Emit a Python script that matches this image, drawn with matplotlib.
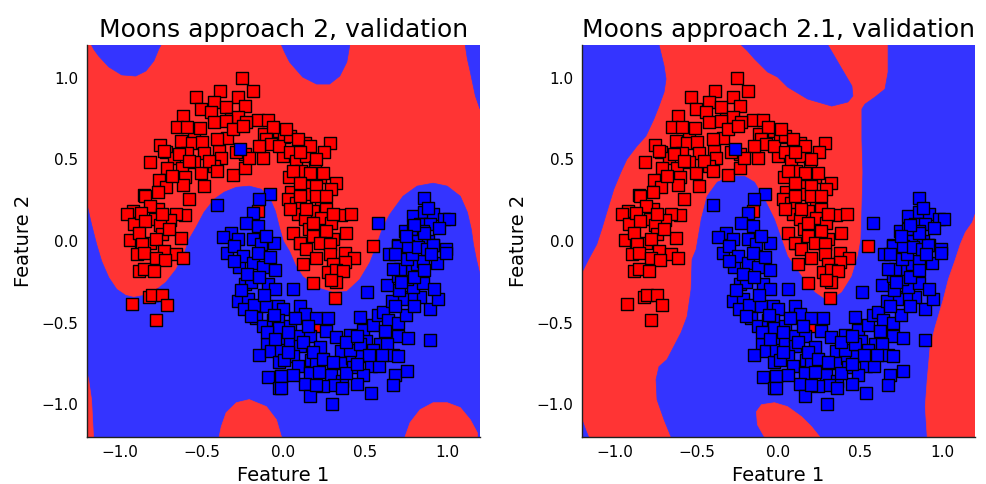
import numpy as np
import matplotlib
matplotlib.use("Agg")
import matplotlib.pyplot as plt
from matplotlib.patches import Polygon

# ---- validation samples (two moons) ----
red_x = [-0.254, -0.389, -0.188, -0.532, -0.427, -0.280, -0.352, -0.233, -0.505, -0.444,
         -0.613, -0.648, -0.546, -0.423, -0.321, -0.280, -0.157, -0.096, -0.029, -0.117,
         0.006, -0.628, -0.556, -0.495, -0.342, -0.755, -0.720, -0.669, -0.587, -0.485,
         -0.393, -0.382, -0.235, -0.127, -0.004, -0.816, -0.710, -0.618, -0.546, -0.505,
         -0.423, -0.311, -0.235, -0.761, -0.601, -0.613, -0.720, -0.485, -0.765, -0.853,
         -0.577, -0.769, -0.918, -0.955, -0.601, -0.658, -0.787, -0.695, -0.914, -0.755,
         -0.935, -0.812, -0.744, -0.628, -0.873, -0.153,
         -0.587, -0.511, -0.352, -0.229, -0.311, -0.249, -0.065, -0.106, -0.076, -0.147,
         -0.025, -0.403, -0.290, -0.209, -0.730, -0.638, -0.577, -0.454, -0.403, -0.679,
         -0.843, -0.812, -0.873, -0.740, -0.843, -0.883, -0.699, -0.781,
         0.037, 0.129, 0.282, 0.247, 0.041, 0.074, 0.135, 0.108, 0.190, 0.033,
         0.221, 0.160, 0.319, 0.047, 0.027, 0.078, 0.149, 0.231, 0.262, 0.292,
         0.088, 0.180, 0.231, 0.350, 0.415, 0.129, 0.292, 0.155, 0.384, 0.303,
         0.104, 0.180,
         0.016, 0.088, 0.160, 0.098, 0.200, 0.057, 0.160, 0.241, 0.098, 0.200,
         0.098, 0.200, 0.262, 0.037, 0.139, 0.303, 0.180, 0.262, 0.057, 0.221,
         -0.863, -0.894, -0.853, -0.730, -0.658, -0.613, -0.781, -0.724, -0.881, -0.853,
         -0.791, -0.822, -0.801, -0.744, -0.924, -0.710, -0.781,
         0.102, 0.139, 0.200, 0.282, 0.282, 0.374, 0.429, 0.374, 0.303, 0.272,
         0.323, 0.364, 0.119, 0.180, 0.319, 0.292, 0.313, 0.196, 0.548]
red_y = [1.000, 0.920, 0.920, 0.879, 0.853, 0.883, 0.822, 0.828, 0.808, 0.787,
         0.763, 0.701, 0.665, 0.726, 0.746, 0.757, 0.740, 0.740, 0.675, 0.654,
         0.634, 0.613, 0.599, 0.607, 0.630, 0.587, 0.548, 0.511, 0.536, 0.536,
         0.552, 0.511, 0.532, 0.507, 0.521, 0.481, 0.450, 0.450, 0.485, 0.419,
         0.460, 0.405, 0.450, 0.374, 0.389, 0.344, 0.331, 0.337, 0.297, 0.282,
         0.260, 0.194, 0.182, 0.164, 0.160, 0.168, 0.133, 0.127, 0.102, 0.098,
         0.004, -0.010, 0.041, 0.016, -0.020, 0.184,
         0.695, 0.689, 0.736, 0.726, 0.685, 0.706, 0.695, 0.624, 0.593, 0.583,
         0.583, 0.624, 0.542, 0.511, 0.552, 0.532, 0.491, 0.491, 0.429, 0.399,
         0.276, 0.215, 0.174, 0.164, 0.123, 0.051, 0.072, 0.010,
         0.644, 0.599, 0.603, 0.542, 0.542, 0.491, 0.521, 0.429, 0.454, 0.389,
         0.389, 0.337, 0.358, 0.297, 0.256, 0.235, 0.286, 0.235, 0.194, 0.317,
         0.164, 0.184, 0.143, 0.160, 0.164, 0.133, 0.108, 0.072, 0.051, 0.014,
         -0.010, 0.031,
         0.685, 0.624, 0.583, 0.542, 0.501, 0.429, 0.419, 0.419, 0.358, 0.337,
         0.276, 0.276, 0.276, 0.194, 0.194, 0.164, 0.112, 0.061, 0.051, -0.010,
         -0.020, -0.082, -0.072, -0.061, -0.078, -0.102, -0.102, -0.117, -0.184, -0.170,
         -0.184, -0.342, -0.333, -0.333, -0.384, -0.389, -0.481,
         -0.010, -0.047, -0.102, -0.020, -0.082, -0.072, -0.102, -0.129, -0.143, -0.190,
         -0.180, -0.184, -0.143, -0.256, -0.252, -0.240, -0.352, -0.522, -0.031]

blue_x = [-0.264, -0.082, -0.147, -0.403, -0.188, -0.229, -0.153, -0.321, -0.372, -0.280,
          -0.188, -0.137, -0.055, -0.106,
          0.579, 0.859, 0.793, 0.859, 0.916, 0.978, 1.008, 0.834, 0.896, 0.742,
          0.789, 0.855, 0.701, 0.773, 0.814, 0.885, 0.916, 0.994,
          -0.342, -0.301, -0.270, -0.249, -0.188, -0.157, -0.127, -0.235, -0.198, -0.096,
          -0.051, -0.280, -0.219, -0.239, -0.178, -0.106, -0.035, -0.004, -0.168, -0.127,
          -0.065, -0.031, -0.025, -0.102, -0.147, -0.076, -0.018, -0.029, -0.018, -0.092,
          -0.018, -0.025,
          0.057, 0.098, 0.129, 0.200, 0.272, 0.262, 0.323, 0.405, 0.466, 0.511,
          0.487, 0.548, 0.503, 0.589, 0.579, 0.609, 0.640, 0.701, 0.763, 0.634,
          0.667, 0.701, 0.896, 0.892, 0.941, 0.834, 0.777, 0.722, 0.660, 0.708,
          0.793, 0.855, 0.920, 0.630, 0.753, 0.701, 0.783, 0.712, 0.671, 0.814,
          0.855, 0.937, 0.753, 0.783, 0.644, 0.701, 0.763, 0.824, 0.875, 0.912,
          0.994, 0.037, 0.037, 0.102, 0.102, 0.164, 0.225, 0.057, 0.088, 0.170,
          0.200, 0.164, 0.292, 0.350, 0.354, 0.421, 0.425, 0.476, 0.532, 0.585,
          0.487, 0.360, 0.446, 0.309, 0.241, 0.129, 0.681, 0.671, 0.757, 0.160,
          0.532, 0.296, -0.014, -0.014, 0.006, 0.405, 0.466, 0.548, 0.384,
          -0.30, -0.22, -0.15, -0.08, -0.05, -0.26, -0.12, -0.06, -0.20, -0.10,
          -0.05, 0.03, 0.07, 0.15, 0.12, 0.18, 0.24, 0.03, 0.06, 0.22,
          0.30, 0.38, 0.45, 0.52, 0.60, 0.62, 0.70, 0.75, 0.80, 0.68,
          0.72, 0.80, 0.86, 0.90, 0.86, 0.80, 0.88, 0.95, 0.68, 0.75,
          0.45, 0.36, 0.20]
blue_y = [0.562, 0.290, 0.256, 0.219, 0.170, 0.112, 0.092, 0.051, 0.027, 0.010,
          0.010, -0.020, -0.010, 0.031,
          0.108, 0.266, 0.153, 0.178, 0.164, 0.137, 0.137, 0.106, 0.106, 0.061,
          0.072, 0.061, -0.027, -0.020, 0.000, 0.000, -0.027, -0.051,
          -0.072, -0.031, -0.158, -0.092, -0.133, -0.072, -0.158, -0.266, -0.252, -0.266,
          -0.292, -0.368, -0.354, -0.415, -0.389, -0.399, -0.395, -0.419, -0.474, -0.521,
          -0.481, -0.485, -0.532, -0.628, -0.699, -0.675, -0.624, -0.742, -0.665, -0.834,
          -0.828, -0.900,
          -0.292, -0.395, -0.444, -0.470, -0.470, -0.552, -0.587, -0.573, -0.464, -0.311,
          -0.542, -0.517, -0.613, -0.628, -0.450, -0.436, -0.481, -0.583, -0.593, -0.628,
          -0.695, -0.706, -0.607, -0.419, -0.354, -0.342, -0.342, -0.354, -0.368, -0.297,
          -0.280, -0.256, -0.292, -0.272, -0.231, -0.215, -0.170, -0.170, -0.174, -0.143,
          -0.123, -0.137, -0.112, -0.082, -0.082, -0.031, -0.031, -0.035, -0.051, -0.027,
          -0.072, -0.522, -0.624, -0.583, -0.644, -0.583, -0.648, -0.706, -0.767, -0.726,
          -0.736, -0.808, -0.818, -0.671, -0.747, -0.716, -0.771, -0.702, -0.763, -0.763,
          -0.818, -0.859, -0.873, -0.879, -0.890, -0.875, -0.818, -0.879, -0.798, -0.947,
          -0.930, -0.998, -0.828, -0.900, -0.726, -0.665, -0.630, -0.665, -0.808,
          -0.12, -0.20, -0.22, -0.10, -0.18, -0.30, -0.33, -0.45, -0.46, -0.56,
          -0.60, -0.56, -0.47, -0.52, -0.62, -0.68, -0.72, -0.68, -0.82, -0.80,
          -0.74, -0.62, -0.58, -0.70, -0.70, -0.55, -0.50, -0.45, -0.40, -0.40,
          -0.25, -0.22, -0.18, -0.08, 0.05, 0.10, 0.20, 0.08, -0.08, 0.03,
          -0.75, -0.90, -0.88]

# ---- predicted class regions (boundary vertices, data units) ----
# approach 2: red background with blue regions
a2_blue_main_x = [-1.2, -1.172, -1.141, -1.110, -1.067, -1.018, -0.963, -0.914, -0.853, -0.791,
                  -0.718, -0.656, -0.607, -0.577, -0.534, -0.485, -0.423, -0.362, -0.288, -0.209,
                  -0.135, -0.086, -0.049, -0.025, 0.0, 0.037, 0.074, 0.117, 0.202, 0.301,
                  0.387, 0.466, 0.528, 0.564, 0.607, 0.650, 0.730, 0.816, 0.914, 1.0,
                  1.080, 1.123, 1.147, 1.160, 1.178, 1.2, 1.2, -1.2]
a2_blue_main_y = [0.225, 0.102, -0.020, -0.124, -0.223, -0.296, -0.333, -0.345, -0.333, -0.309,
                  -0.253, -0.174, -0.082, 0.010, 0.084, 0.176, 0.256, 0.299, 0.329, 0.336,
                  0.317, 0.268, 0.182, 0.084, -0.002, -0.063, -0.149, -0.217, -0.284, -0.315,
                  -0.309, -0.235, -0.131, -0.039, 0.084, 0.164, 0.274, 0.336, 0.354, 0.336,
                  0.274, 0.176, 0.072, -0.020, -0.112, -0.204, -1.2, -1.2]
a2_blue_top1_x = [-1.172, -1.160, -1.129, -1.067, -0.988, -0.902, -0.840, -0.791, -0.761, -0.748]
a2_blue_top1_y = [1.2, 1.176, 1.133, 1.066, 1.017, 1.010, 1.041, 1.103, 1.176, 1.2]
a2_blue_top2_x = [-0.012, 0.006, 0.037, 0.117, 0.202, 0.282, 0.344, 0.387, 0.405]
a2_blue_top2_y = [1.2, 1.158, 1.096, 1.004, 0.961, 0.961, 1.010, 1.096, 1.2]
a2_blue_top3_x = [1.110, 1.123, 1.141, 1.172, 1.2, 1.2]
a2_blue_top3_y = [1.2, 1.115, 1.035, 0.888, 0.808, 1.2]
a2_red_bump1_x = [-0.393, -0.380, -0.350, -0.288, -0.209, -0.104, -0.043, -0.012]
a2_red_bump1_y = [-1.2, -1.137, -1.051, -0.990, -0.971, -1.014, -1.094, -1.2]
a2_red_bump2_x = [0.742, 0.773, 0.834, 0.914, 1.0, 1.080, 1.141, 1.184, 1.184]
a2_red_bump2_y = [-1.2, -1.112, -1.033, -0.990, -0.990, -1.020, -1.094, -1.174, -1.2]
a2_red_edge_x = [-1.2, -1.190, -1.172, -1.160, -1.2]
a2_red_edge_y = [-0.805, -0.848, -0.971, -1.2, -1.2]

# approach 2.1: red background with blue regions
a21_blue_left_x = [-1.2, -0.730, -0.699, -0.687, -0.699, -0.730, -0.761, -0.810, -0.865, -0.926,
                   -0.963, -1.006, -1.049, -1.080, -1.110, -1.160, -1.2]
a21_blue_left_y = [1.2, 1.2, 1.072, 0.992, 0.912, 0.826, 0.747, 0.642, 0.581, 0.501,
                   0.421, 0.317, 0.176, 0.072, -0.020, -0.112, -0.192]
a21_blue_top_x = [-0.227, -0.190, -0.147, -0.067, -0.006, 0.055, 0.178, 0.325, 0.423, 0.454,
                  0.448, 0.387, 0.344, 0.301]
a21_blue_top_y = [1.2, 1.164, 1.115, 1.035, 1.004, 0.943, 0.869, 0.826, 0.851, 0.888,
                  0.949, 1.053, 1.127, 1.2]
a21_blue_main_x = [-0.656, -0.699, -0.742, -0.748, -0.730, -0.681, -0.595, -0.558, -0.534, -0.528,
                   -0.503, -0.472, -0.436, -0.374, -0.288, -0.209, -0.147, -0.086, -0.025, 0.018,
                   0.055, 0.141, 0.221, 0.301, 0.387, 0.448, 0.485, 0.503, 0.509, 0.515,
                   0.509, 0.509, 0.528, 0.589, 0.650, 0.669, 0.669, 1.2, 1.2]
a21_blue_main_y = [-1.2, -1.094, -0.971, -0.848, -0.769, -0.726, -0.560, -0.462, -0.296, -0.112,
                   -0.051, 0.133, 0.274, 0.360, 0.397, 0.397, 0.360, 0.256, 0.133, 0.010,
                   -0.094, -0.217, -0.315, -0.370, -0.315, -0.217, -0.094, 0.010, 0.195, 0.421,
                   0.624, 0.808, 0.838, 0.881, 0.930, 1.035, 1.2, 1.2, -1.2]
a21_red_right_x = [1.2, 1.184, 1.141, 1.110, 1.080, 1.037, 1.006, 0.957, 0.926, 0.908,
                   0.896, 0.908, 1.2]
a21_red_right_y = [0.164, 0.115, 0.053, -0.020, -0.112, -0.235, -0.358, -0.524, -0.646, -0.848,
                   -1.014, -1.2, -1.2]
a21_red_bump_x = [-0.086, -0.129, -0.135, -0.104, -0.025, 0.055, 0.141, 0.202, 0.252]
a21_red_bump_y = [-1.2, -1.124, -1.045, -1.002, -0.990, -1.014, -1.076, -1.137, -1.2]
a21_blue_corner_x = [-1.2, -1.178, -1.160, -1.2]
a21_blue_corner_y = [-1.094, -1.155, -1.2, -1.2]

titles = ["Moons approach 2, validation", "Moons approach 2.1, validation"]
ticks = [-1.0, -0.5, 0.0, 0.5, 1.0]
tick_labels = ["\u22121.0", "\u22120.5", "0.0", "0.5", "1.0"]

RED_REGION = "#ff3434"
BLUE_REGION = "#3434ff"
RED_PT = "#ff0000"
BLUE_PT = "#0000ff"

panels = [
    [(a2_blue_main_x, a2_blue_main_y, BLUE_REGION),
     (a2_blue_top1_x, a2_blue_top1_y, BLUE_REGION),
     (a2_blue_top2_x, a2_blue_top2_y, BLUE_REGION),
     (a2_blue_top3_x, a2_blue_top3_y, BLUE_REGION),
     (a2_red_bump1_x, a2_red_bump1_y, RED_REGION),
     (a2_red_bump2_x, a2_red_bump2_y, RED_REGION),
     (a2_red_edge_x, a2_red_edge_y, RED_REGION)],
    [(a21_blue_left_x, a21_blue_left_y, BLUE_REGION),
     (a21_blue_top_x, a21_blue_top_y, BLUE_REGION),
     (a21_blue_main_x, a21_blue_main_y, BLUE_REGION),
     (a21_red_right_x, a21_red_right_y, RED_REGION),
     (a21_red_bump_x, a21_red_bump_y, RED_REGION),
     (a21_blue_corner_x, a21_blue_corner_y, BLUE_REGION)],
]

fig = plt.figure(figsize=(9.87, 4.84), dpi=100)
axes_pos = [[0.0881, 0.0971, 0.3982, 0.8099], [0.5897, 0.0971, 0.3982, 0.8099]]

for pos, title, regions in zip(axes_pos, titles, panels):
    ax = fig.add_axes(pos)
    ax.set_facecolor(RED_REGION)
    for xs, ys, col in regions:
        ax.add_patch(Polygon(np.column_stack([xs, ys]), closed=True,
                             facecolor=col, edgecolor=col, linewidth=0.5, zorder=1))
    ax.scatter(red_x, red_y, marker="s", s=66, c=RED_PT, edgecolors="black",
               linewidths=1.0, zorder=3)
    ax.scatter(blue_x, blue_y, marker="s", s=66, c=BLUE_PT, edgecolors="black",
               linewidths=1.0, zorder=3)
    ax.set_xlim(-1.2, 1.2)
    ax.set_ylim(-1.2, 1.2)
    ax.set_xticks(ticks)
    ax.set_xticklabels(tick_labels)
    ax.set_yticks(ticks)
    ax.set_yticklabels(tick_labels)
    ax.tick_params(length=0, labelsize=11, pad=6)
    for side in ["top", "right"]:
        ax.spines[side].set_visible(False)
    for side in ["left", "bottom"]:
        ax.spines[side].set_color("#202020")
        ax.spines[side].set_linewidth(1.0)
    ax.set_title(title, fontsize=18, pad=6)
    ax.set_xlabel("Feature 1", fontsize=14, labelpad=4)
    ax.set_ylabel("Feature 2", fontsize=14, labelpad=6)

fig.savefig("out.png", dpi=100)
